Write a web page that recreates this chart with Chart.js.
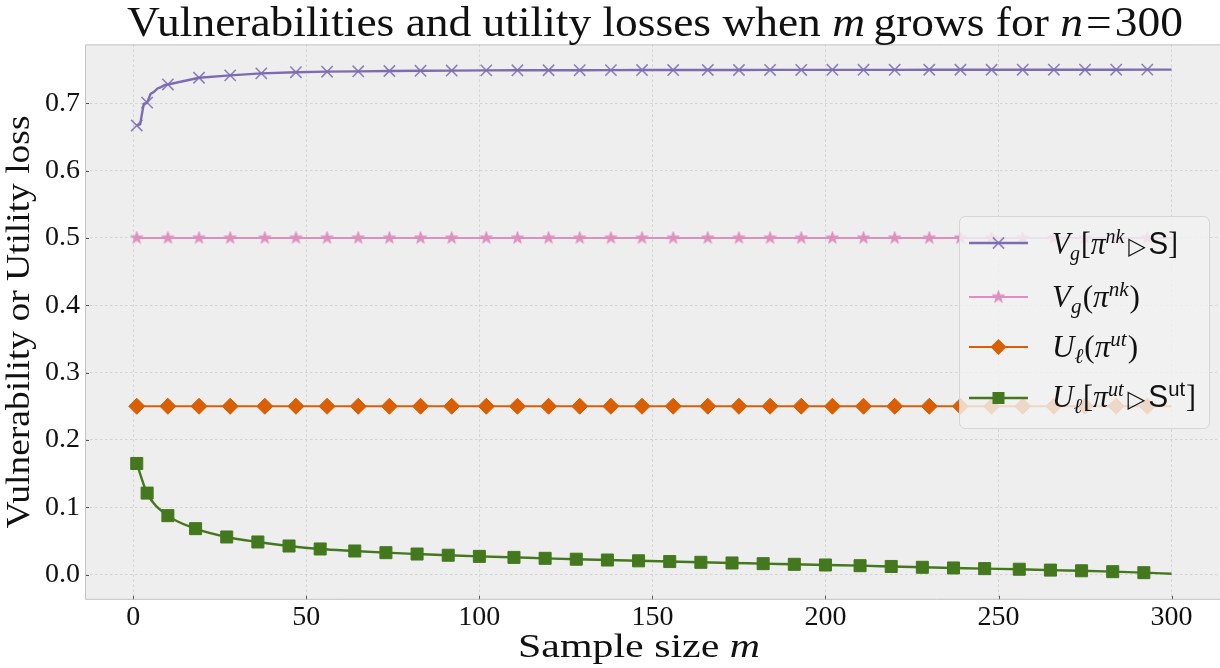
<!DOCTYPE html>
<html><head><meta charset="utf-8">
<script src="https://cdn.jsdelivr.net/npm/chart.js@4"></script>
<style>html,body{margin:0;padding:0;background:#fff;overflow:hidden;} canvas{display:block;}</style>
</head><body>
<canvas id="c" width="1220" height="668"></canvas>
<script>
// ---------- data ----------
const xTicks = [0, 50, 100, 150, 200, 250, 300];
const yTicks = [0.0, 0.1, 0.2, 0.3, 0.4, 0.5, 0.6, 0.7];

const purpleM = [1,2,3,4,5,6,7,8,9,10,19,28,37,47,56,65,74,83,92,102,111,120,129,138,147,156,166,175,184,193,202,211,220,230,239,248,257,266,275,284,293,300];
const purpleV = [0.667,0.669,0.699,0.701,0.714,0.717,0.722,0.724,0.727,0.728,0.738,0.7415,0.7445,0.7462,0.747,0.7475,0.748,0.7483,0.7486,0.7489,0.749,0.7491,0.7492,0.7493,0.7494,0.7494,0.7495,0.7495,0.7496,0.7496,0.7497,0.7497,0.7497,0.7498,0.7498,0.7498,0.7499,0.7499,0.7499,0.7499,0.75,0.75];
const purpleMarks = [1,4,10,19,28,37,47,56,65,74,83,92,102,111,120,129,138,147,156,166,175,184,193,202,211,220,230,239,248,257,266,275,284,293];

const flatM = [1,10,19,28,38,47,56,65,74,83,92,102,111,120,129,138,147,156,166,175,184,193,202,211,220,230,239,248,257,266,275,284,293,300];
const flatMarks = [1,10,19,28,38,47,56,65,74,83,92,102,111,120,129,138,147,156,166,175,184,193,202,211,220,230,239,248,257,266,275,284,293];
const pinkV = [0.5,0.5,0.5,0.5,0.5,0.5,0.5,0.5,0.5,0.5,0.5,0.5,0.5,0.5,0.5,0.5,0.5,0.5,0.5,0.5,0.5,0.5,0.5,0.5,0.5,0.5,0.5,0.5,0.5,0.5,0.5,0.5,0.5,0.5];
const orangeV = [0.25,0.25,0.25,0.25,0.25,0.25,0.25,0.25,0.25,0.25,0.25,0.25,0.25,0.25,0.25,0.25,0.25,0.25,0.25,0.25,0.25,0.25,0.25,0.25,0.25,0.25,0.25,0.25,0.25,0.25,0.25,0.25,0.25,0.25];

const greenM = [1,4,10,18,27,36,45,54,64,73,82,91,100,110,119,128,137,146,155,164,173,182,191,200,210,219,228,237,246,256,265,274,283,292,300];
const greenV = [0.165,0.121,0.0875,0.0682,0.0558,0.0484,0.0424,0.038,0.035,0.0325,0.0305,0.0287,0.027,0.0255,0.0241,0.0228,0.0216,0.0204,0.0193,0.0182,0.0172,0.0162,0.0152,0.0142,0.0132,0.012,0.0108,0.0098,0.0088,0.0079,0.0066,0.0056,0.0043,0.0028,0.0012];
const greenMarks = [1,4,10,18,27,36,45,54,64,73,82,91,100,110,119,128,137,146,155,164,173,182,191,200,210,219,228,237,246,256,265,274,283,292];

// ---------- style ----------
const C_PURPLE = 'rgb(124,108,178)';
const C_PINK = 'rgb(223,142,192)';
const C_ORANGE = 'rgb(217,95,2)';
const C_GREEN = 'rgb(68,120,30)';
const SERIF = "'Liberation Serif','DejaVu Serif',serif";
const SANS = "'Liberation Sans','DejaVu Sans',sans-serif";
const SYM = "'DejaVu Sans',sans-serif";

function makeStar(color, R){
  const s = Math.ceil(R*2+4);
  const c = document.createElement('canvas'); c.width = s; c.height = s;
  const g = c.getContext('2d'); g.translate(s/2, s/2);
  g.beginPath();
  for (let i=0;i<10;i++){ const r = i%2 ? R*0.4 : R; const a = -Math.PI/2 + i*Math.PI/5; g.lineTo(r*Math.cos(a), r*Math.sin(a)); }
  g.closePath(); g.fillStyle = color; g.fill(); g.lineWidth = 0.8; g.strokeStyle = color; g.stroke();
  return c;
}
const starImg = makeStar(C_PINK, 6.5);

function pts(ms, vs){ return ms.map((m,i)=>({x:m, y:vs[i]})); }
function radii(ms, marks, r){ return ms.map(m => marks.includes(m) ? r : 0); }

const datasets = [
  {label:'purple', data:pts(purpleM,purpleV), borderColor:C_PURPLE, borderWidth:2.4, tension:0,
   pointStyle:'crossRot', pointRadius:radii(purpleM,purpleMarks,8), pointBorderColor:'rgba(124,108,178,0.85)', pointBorderWidth:1.6, pointBackgroundColor:C_PURPLE},
  {label:'pink', data:pts(flatM,pinkV), borderColor:C_PINK, borderWidth:2, tension:0,
   pointStyle:starImg, pointRadius:radii(flatM,flatMarks,6)},
  {label:'orange', data:pts(flatM,orangeV), borderColor:C_ORANGE, borderWidth:2, tension:0,
   pointStyle:'rectRot', pointRadius:radii(flatM,flatMarks,8), pointBackgroundColor:C_ORANGE, pointBorderColor:C_ORANGE, pointBorderWidth:1},
  {label:'green', data:pts(greenM,greenV), borderColor:C_GREEN, borderWidth:2.4, cubicInterpolationMode:'monotone',
   pointStyle:'rect', pointRadius:radii(greenM,greenMarks,8.5), pointBackgroundColor:C_GREEN, pointBorderColor:C_GREEN, pointBorderWidth:1}
];
datasets.forEach(d=>{ d.fill=false; d.pointHoverRadius=d.pointRadius; });

// rich text helper
function F(style, size, fam){ return style + ' ' + size + 'px ' + fam; }
function richWidth(ctx, segs){ let w=0; for (const s of segs){ ctx.font=s.f; w += ctx.measureText(s.t).width + (s.g||0); } return w; }
function drawRich(ctx, segs, x, y, align, target){
  const w = richWidth(ctx, segs);
  const sx = target ? target / w : 1;
  ctx.save(); ctx.translate(x, y); ctx.scale(sx, 1);
  let cx = align==='center' ? -w/2 : (align==='right' ? -w : 0);
  ctx.textBaseline = 'alphabetic'; ctx.textAlign = 'left';
  for (const s of segs){ ctx.font = s.f; ctx.fillText(s.t, cx, s.dy||0); cx += ctx.measureText(s.t).width + (s.g||0); }
  ctx.restore();
}

const decor = {
  id:'decor',
  beforeDraw(chart){
    const {ctx, chartArea:a} = chart;
    ctx.save(); ctx.fillStyle = '#eeeeee'; ctx.fillRect(a.left, a.top, a.right-a.left, a.bottom-a.top); ctx.restore();
  },
  beforeDatasetsDraw(chart){
    const {ctx, chartArea:a, scales} = chart;
    ctx.save(); ctx.strokeStyle = '#555'; ctx.lineWidth = 1;
    xTicks.forEach(v=>{ const px = Math.round(scales.x.getPixelForValue(v))+0.5; ctx.beginPath(); ctx.moveTo(px, a.bottom); ctx.lineTo(px, a.bottom-4); ctx.stroke(); });
    yTicks.forEach(v=>{ const py = Math.round(scales.y.getPixelForValue(v))+0.5; ctx.beginPath(); ctx.moveTo(a.left, py); ctx.lineTo(a.left+4, py); ctx.stroke(); });
    // frame: left, top, bottom (right edge lies outside the picture)
    ctx.strokeStyle = '#c4c4c4';
    ctx.beginPath();
    ctx.moveTo(a.right, a.top+0.5); ctx.lineTo(a.left+0.5, a.top+0.5); ctx.lineTo(a.left+0.5, a.bottom-0.5); ctx.lineTo(a.right, a.bottom-0.5);
    ctx.stroke();
    ctx.restore();
  },
  afterDraw(chart){
    const ctx = chart.ctx;
    ctx.save(); ctx.fillStyle = '#111';
    // title
    const T = 43;
    drawRich(ctx, [
      {t:'Vulnerabilities and utility losses when ', f:F('normal',T,SERIF)},
      {t:'m', f:F('italic',T,SERIF), g:8},
      {t:'grows for ', f:F('normal',T,SERIF)},
      {t:'n', f:F('italic',T,SERIF), g:3},
      {t:'=', f:F('normal',T,SERIF), g:3},
      {t:'300', f:F('normal',T,SERIF)}
    ], 655, 36, 'center', 1056);
    // x label
    drawRich(ctx, [
      {t:'Sample size ', f:F('normal',33,SERIF)},
      {t:'m', f:F('italic',33,SERIF)}
    ], 639, 657, 'center', 242);
    // y label
    ctx.save(); ctx.translate(29, 322); ctx.rotate(-Math.PI/2);
    drawRich(ctx, [{t:'Vulnerability or Utility loss', f:F('normal',33,SERIF)}], 0, 0, 'center', 413);
    ctx.restore();

    // legend
    const L = {x:959, y:216, w:250, h:212, r:6};
    ctx.beginPath();
    ctx.roundRect(L.x+0.5, L.y+0.5, L.w, L.h, L.r);
    ctx.fillStyle = 'rgba(241,241,241,0.82)'; ctx.fill();
    ctx.strokeStyle = 'rgba(210,210,210,0.9)'; ctx.lineWidth = 1; ctx.stroke();

    const rows = [243, 297, 347, 398];
    const hx0 = 969, hx1 = 1028, hm = 998.5;
    const cols = [C_PURPLE, C_PINK, C_ORANGE, C_GREEN];
    rows.forEach((y,i)=>{
      ctx.beginPath(); ctx.moveTo(hx0, y); ctx.lineTo(hx1, y);
      ctx.strokeStyle = cols[i]; ctx.lineWidth = i===0||i===3 ? 2.4 : 2; ctx.stroke();
    });
    // markers
    ctx.save(); ctx.strokeStyle = 'rgba(124,108,178,0.85)'; ctx.lineWidth = 1.6;
    const d = 5.6; ctx.beginPath(); ctx.moveTo(hm-d, rows[0]-d); ctx.lineTo(hm+d, rows[0]+d); ctx.moveTo(hm-d, rows[0]+d); ctx.lineTo(hm+d, rows[0]-d); ctx.stroke(); ctx.restore();
    ctx.drawImage(starImg, hm - starImg.width/2, rows[1] - starImg.height/2);
    ctx.beginPath(); ctx.moveTo(hm, rows[2]-8); ctx.lineTo(hm+8, rows[2]); ctx.lineTo(hm, rows[2]+8); ctx.lineTo(hm-8, rows[2]); ctx.closePath(); ctx.fillStyle = C_ORANGE; ctx.fill();
    ctx.fillStyle = C_GREEN; ctx.fillRect(hm-6, rows[3]-6, 12, 12);

    ctx.fillStyle = '#111';
    const B = 31, S = 21;
    const tx = 1052;
    drawRich(ctx, [
      {t:'V', f:F('italic',B,SERIF)}, {t:'g', f:F('italic',S,SERIF), dy:6, g:1},
      {t:'[', f:F('normal',B,SERIF)}, {t:'π', f:F('italic',B,SERIF)},
      {t:'nk', f:F('italic',S,SERIF), dy:-11, g:4},
      {t:'▷', f:F('normal',24,SYM), g:3}, {t:'S', f:F('normal',B,SANS)}, {t:']', f:F('normal',B,SERIF)}
    ], tx, rows[0]+11, 'left', 126);
    drawRich(ctx, [
      {t:'V', f:F('italic',B,SERIF)}, {t:'g', f:F('italic',S,SERIF), dy:6, g:1},
      {t:'(', f:F('normal',B,SERIF)}, {t:'π', f:F('italic',B,SERIF)},
      {t:'nk', f:F('italic',S,SERIF), dy:-11, g:1}, {t:')', f:F('normal',B,SERIF)}
    ], tx, rows[1]+10, 'left', 88);
    drawRich(ctx, [
      {t:'U', f:F('italic',B,SERIF)}, {t:'ℓ', f:F('italic',S,SERIF), dy:6, g:1},
      {t:'(', f:F('normal',B,SERIF)}, {t:'π', f:F('italic',B,SERIF)},
      {t:'ut', f:F('italic',S,SERIF), dy:-11, g:1}, {t:')', f:F('normal',B,SERIF)}
    ], tx, rows[2]+10, 'left', 86);
    drawRich(ctx, [
      {t:'U', f:F('italic',B,SERIF)}, {t:'ℓ', f:F('italic',S,SERIF), dy:6, g:1},
      {t:'[', f:F('normal',B,SERIF)}, {t:'π', f:F('italic',B,SERIF)},
      {t:'ut', f:F('italic',S,SERIF), dy:-11, g:4},
      {t:'▷', f:F('normal',24,SYM), g:3}, {t:'S', f:F('normal',B,SANS)},
      {t:'ut', f:F('normal',S,SANS), dy:-11, g:1}, {t:']', f:F('normal',B,SERIF)}
    ], tx, rows[3]+9, 'left', 144);
    ctx.restore();
  }
};

new Chart(document.getElementById('c'), {
  type:'line',
  data:{datasets},
  plugins:[decor],
  options:{
    responsive:false, animation:false, events:[],
    layout:{autoPadding:false, padding:{top:44.4, right:0, left:0, bottom:0}},
    plugins:{legend:{display:false}, title:{display:false}, tooltip:{enabled:false}},
    scales:{
      x:{type:'linear', min:-13.95, max:314.0,
         afterBuildTicks(s){ s.ticks = xTicks.map(v=>({value:v})); },
         afterFit(s){ s.height = 68.2; s.paddingLeft = 0; s.paddingRight = 0; },
         ticks:{font:{family:SERIF, size:28}, color:'#111', padding:1, maxRotation:0, autoSkip:false, callback:v=>String(v)},
         grid:{color:'#d3d3d3', lineWidth:1, drawTicks:false},
         border:{display:false, dash:[2.5,2.5]}},
      y:{type:'linear', min:-0.0375, max:0.7875,
         afterBuildTicks(s){ s.ticks = yTicks.map(v=>({value:v})); },
         afterFit(s){ s.width = 85; s.paddingTop = 0; s.paddingBottom = 0; },
         ticks:{font:{family:SERIF, size:28}, color:'#111', padding:5, autoSkip:false, callback:v=>Number(v).toFixed(1)},
         grid:{color:'#d3d3d3', lineWidth:1, drawTicks:false},
         border:{display:false, dash:[2.5,2.5]}}
    }
  }
});
</script></body></html>
